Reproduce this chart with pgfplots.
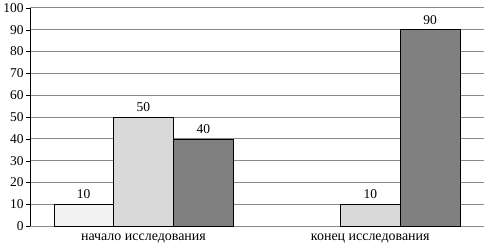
\documentclass[border=0pt]{standalone}
\usepackage{fontspec}
\setmainfont{Liberation Serif}
\usepackage{pgfplots}
\pgfplotsset{compat=1.18}
\definecolor{cA}{HTML}{F2F2F2}
\definecolor{cB}{HTML}{D9D9D9}
\definecolor{cC}{HTML}{808080}
\definecolor{gridc}{HTML}{8A8A8A}
\begin{document}
\begin{tikzpicture}
\begin{axis}[
  scale only axis,
  width=455pt, height=219pt,
  xmin=-0.5, xmax=1.5,
  ymin=0, ymax=100,
  ytick={0,10,...,100},
  xtick={0,1},
  xticklabels={начало исследования, конец исследования},
  major x tick style={draw=none},
  extra x ticks={-0.5,0.5,1.5},
  extra x tick labels={},
  extra x tick style={major tick length=4pt, tick style={draw=gridc, thick}, xtick pos=bottom, xtick align=outside, grid=none},
  axis x line*=bottom,
  axis y line*=left,
  x axis line style={draw=gridc, thick, -},
  y axis line style={draw=black, -},
  ytick align=outside,
  major tick length=4pt,
  ymajorgrids,
  grid style={draw=gridc, line width=0.8pt},
  y tick style={draw=black},
  yticklabel style={font=\fontsize{13.5}{15}\selectfont, xshift=1pt},
  xticklabel style={font=\fontsize{14}{16}\selectfont},
  /pgf/number format/assume math mode=true,
  ybar=0pt,
  bar width=60pt,
  nodes near coords,
  every node near coord/.append style={font=\fontsize{13.5}{15}\selectfont, yshift=2pt},
  clip=false,
]
\addplot[fill=cA, draw=black, bar shift=-60pt] coordinates {(0,10)};
\addplot[fill=cB, draw=black, bar shift=0pt] coordinates {(0,50) (1,10)};
\addplot[fill=cC, draw=black, bar shift=60pt] coordinates {(0,40) (1,90)};
\end{axis}
\end{tikzpicture}
\end{document}
